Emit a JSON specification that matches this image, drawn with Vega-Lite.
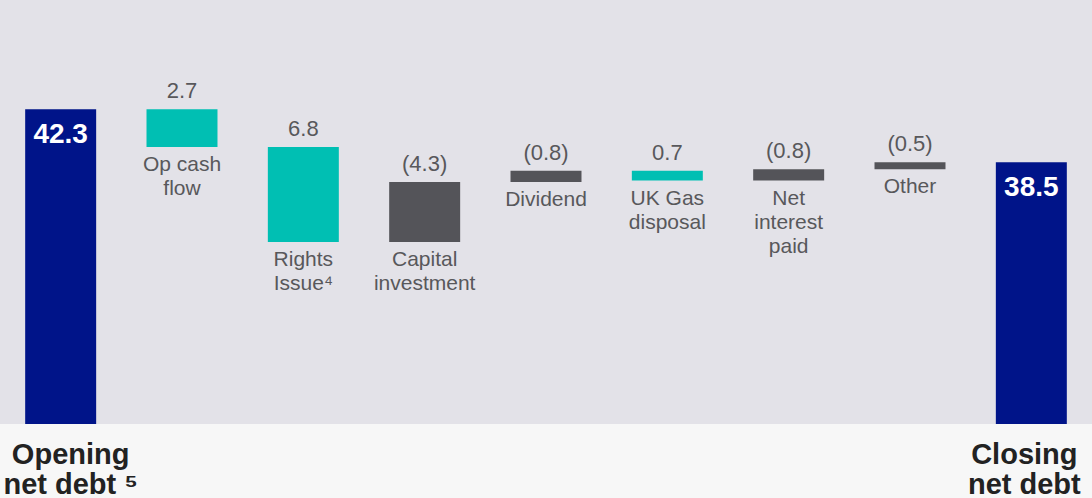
{
  "$schema": "https://vega.github.io/schema/vega-lite/v6.json",
  "width": 1092,
  "height": 424,
  "autosize": {"type": "none"},
  "padding": {"left": 0, "top": 0, "right": 0, "bottom": 74},
  "background": "#f7f7f7",
  "config": {
    "view": {"fill": "#e3e2e8", "stroke": null},
    "font": "Liberation Sans",
    "text": {"font": "Liberation Sans", "lineBreak": "\n"}
  },
  "data": {
    "values": [
      {"cat": "Opening", "label": "", "amount": "42.3", "from": 0, "to": 42.3, "kind": "total"},
      {"cat": "Op cash flow", "label": "Op cash\nflow", "amount": "2.7", "from": 42.3, "to": 39.6, "kind": "reduction"},
      {"cat": "Rights Issue", "label": "Rights\nIssue⁴", "amount": "6.8", "from": 39.6, "to": 32.8, "kind": "reduction"},
      {"cat": "Capital investment", "label": "Capital\ninvestment", "amount": "(4.3)", "from": 32.8, "to": 37.1, "kind": "increase"},
      {"cat": "Dividend", "label": "Dividend", "amount": "(0.8)", "from": 37.1, "to": 37.9, "kind": "increase"},
      {"cat": "UK Gas disposal", "label": "UK Gas\ndisposal", "amount": "0.7", "from": 37.9, "to": 37.2, "kind": "reduction"},
      {"cat": "Net interest paid", "label": "Net\ninterest\npaid", "amount": "(0.8)", "from": 37.2, "to": 38.0, "kind": "increase"},
      {"cat": "Other", "label": "Other", "amount": "(0.5)", "from": 38.0, "to": 38.5, "kind": "increase"},
      {"cat": "Closing", "label": "", "amount": "38.5", "from": 0, "to": 38.5, "kind": "total"}
    ]
  },
  "encoding": {
    "x": {
      "field": "cat",
      "type": "nominal",
      "sort": null,
      "scale": {"paddingInner": 0.415, "paddingOuter": 0.2075},
      "axis": {
        "title": null,
        "domain": false,
        "ticks": false,
        "tickSize": 0,
        "labelAngle": 0,
        "labelFont": "Liberation Sans",
        "labelFontSize": 29,
        "labelFontWeight": "bold",
        "labelColor": "#222222",
        "labelBaseline": "alphabetic",
        "labelPadding": 39,
        "labelLineHeight": 30,
        "labelLimit": 0,
        "labelOverlap": false,
        "labelOffset": {"condition": {"test": "datum.value == 'Opening'", "value": 10}, "value": -7},
        "labelExpr": "datum.value == 'Opening' ? ['Opening', 'net debt ⁵'] : datum.value == 'Closing' ? ['Closing', 'net debt'] : ''"
      }
    }
  },
  "layer": [
    {
      "mark": {"type": "bar", "clip": true, "stroke": null},
      "encoding": {
        "y": {
          "field": "from",
          "type": "quantitative",
          "scale": {"domain": [19.8, 50.1], "nice": false, "zero": false},
          "axis": null
        },
        "y2": {"field": "to"},
        "color": {
          "field": "kind",
          "type": "nominal",
          "scale": {"domain": ["total", "reduction", "increase"], "range": ["#001489", "#00bfb3", "#545459"]},
          "legend": null
        }
      }
    },
    {
      "transform": [{"filter": "datum.kind == 'reduction'"}],
      "mark": {"type": "text", "baseline": "alphabetic", "dy": -11, "fontSize": 22, "color": "#58585b"},
      "encoding": {"y": {"field": "from", "type": "quantitative"}, "text": {"field": "amount"}}
    },
    {
      "transform": [{"filter": "datum.kind == 'increase'"}],
      "mark": {"type": "text", "baseline": "alphabetic", "dy": -11, "fontSize": 22, "color": "#58585b"},
      "encoding": {"y": {"field": "to", "type": "quantitative"}, "text": {"field": "amount"}}
    },
    {
      "transform": [{"filter": "datum.kind == 'reduction'"}],
      "mark": {"type": "text", "baseline": "top", "dy": 7, "fontSize": 21, "lineHeight": 24, "color": "#58585b"},
      "encoding": {"y": {"field": "to", "type": "quantitative"}, "text": {"field": "label"}}
    },
    {
      "transform": [{"filter": "datum.kind == 'increase'"}],
      "mark": {"type": "text", "baseline": "top", "dy": 7, "fontSize": 21, "lineHeight": 24, "color": "#58585b"},
      "encoding": {"y": {"field": "from", "type": "quantitative"}, "text": {"field": "label"}}
    },
    {
      "transform": [{"filter": "datum.kind == 'total'"}],
      "mark": {"type": "text", "baseline": "alphabetic", "dy": 34, "fontSize": 28, "fontWeight": "bold", "color": "#ffffff"},
      "encoding": {"y": {"field": "to", "type": "quantitative"}, "text": {"field": "amount"}}
    }
  ]
}
